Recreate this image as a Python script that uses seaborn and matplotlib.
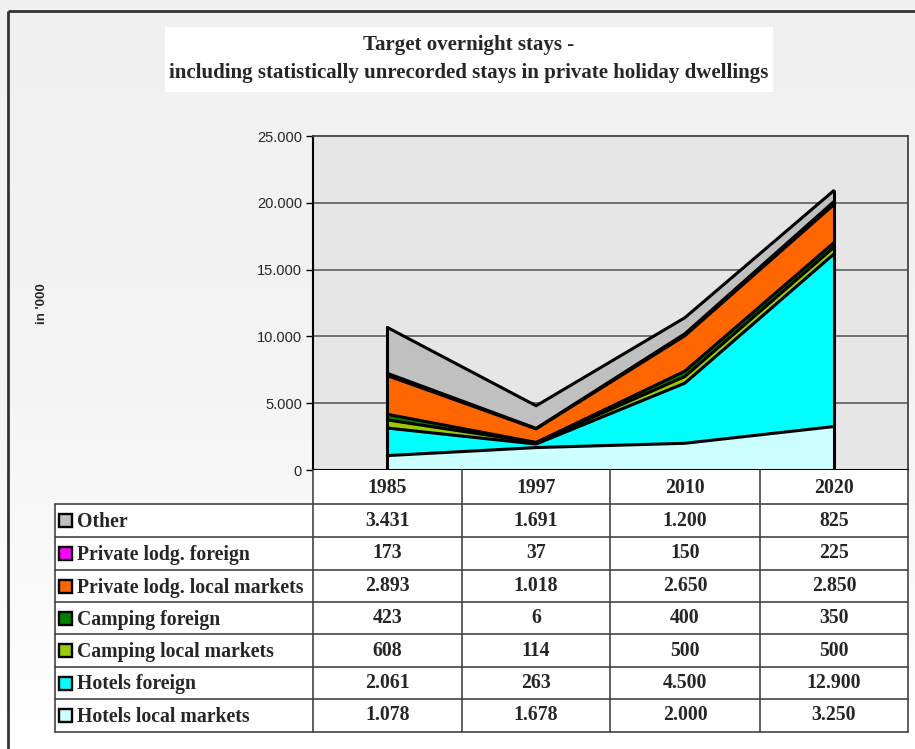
import numpy as np
import pandas as pd
import matplotlib
matplotlib.use("Agg")
import matplotlib.pyplot as plt
import seaborn as sns
from matplotlib.patches import Rectangle
from matplotlib.colors import LinearSegmentedColormap

# ---------------- data ----------------
years = ["1985", "1997", "2010", "2020"]
series_names = ["Hotels local markets", "Hotels foreign", "Camping local markets",
                "Camping foreign", "Private lodg. local markets",
                "Private lodg. foreign", "Other"]
hotels_local = [1078, 1678, 2000, 3250]
hotels_foreign = [2061, 263, 4500, 12900]
camping_local = [608, 114, 500, 500]
camping_foreign = [423, 6, 400, 350]
private_local = [2893, 1018, 2650, 2850]
private_foreign = [173, 37, 150, 225]
other = [3431, 1691, 1200, 825]
series_colors = ["#ccffff", "#00ffff", "#99cc00", "#008000", "#ff6600", "#ff00ff", "#c0c0c0"]
y_ticks = [0, 5000, 10000, 15000, 20000, 25000]
y_tick_labels = ["0", "5.000", "10.000", "15.000", "20.000", "25.000"]
title_text = "Target overnight stays -\nincluding statistically unrecorded stays in private holiday dwellings"
y_label = "in '000"

series_values = [hotels_local, hotels_foreign, camping_local, camping_foreign,
                 private_local, private_foreign, other]

sns.set_style("white")
plt.rcParams["font.family"] = ["Liberation Sans", "DejaVu Sans"]

W, H = 915, 749
fig = plt.figure(figsize=(W / 100, H / 100), dpi=100)

# background gradient
bg = fig.add_axes([0, 0, 1, 1], zorder=-10)
grad = np.linspace(0, 1, 256).reshape(-1, 1)
cmap = LinearSegmentedColormap.from_list("bg", ["#f0f0f0", "#f4f4f4", "#ffffff"])
bg.imshow(grad, aspect="auto", cmap=cmap, extent=[0, W, H, 0])
bg.set_xlim(0, W); bg.set_ylim(H, 0); bg.axis("off")

# overlay for title, frame and table (pixel coordinates)
ov = fig.add_axes([0, 0, 1, 1], zorder=5)
ov.set_xlim(0, W); ov.set_ylim(H, 0); ov.axis("off"); ov.patch.set_alpha(0)

# frame
ov.plot([8, 8], [H, 11], color="#333333", lw=2, solid_capstyle="butt")
ov.plot([8, W], [11, 11], color="#333333", lw=2, solid_capstyle="butt")

# title box
ov.add_patch(Rectangle((165, 27), 608, 65, facecolor="white", edgecolor="none"))
ov.text(469, 59, title_text, ha="center", va="center", fontsize=15, fontweight="bold",
        family="Liberation Serif", linespacing=1.55)

# ---------------- main area chart ----------------
ax = fig.add_axes([313 / W, 1 - 470 / H, 595 / W, 334 / H], zorder=2)
ax.set_facecolor("#e6e6e6")
xs = np.arange(len(years))
df = pd.DataFrame({name: vals for name, vals in zip(series_names, series_values)}, index=xs)
cum = df.cumsum(axis=1)

for yv in y_ticks[1:-1]:
    ax.axhline(yv, color="#505050", lw=1.1, zorder=1)

prev = np.zeros(len(xs))
for name, col in zip(series_names, series_colors):
    top = cum[name].values
    ax.fill_between(xs, prev, top, facecolor=col, edgecolor="none", zorder=2)
    prev = top

for name in series_names:
    sns.lineplot(x=xs, y=cum[name].values, color="black", lw=2.2, ax=ax, zorder=3)
total = cum[series_names[-1]].values
ax.plot([xs[0], xs[0]], [0, total[0]], color="black", lw=2.2, zorder=3)
ax.plot([xs[-1], xs[-1]], [0, total[-1]], color="black", lw=2.2, zorder=3)

ax.set_xlim(-0.5, len(years) - 0.5)
ax.set_ylim(0, 25000)
ax.set_yticks(y_ticks)
ax.set_yticklabels(y_tick_labels)
ax.set_xticks([])
ax.tick_params(axis="y", length=5, width=1, color="black", direction="out",
               labelsize=10.5, pad=3, left=True)
for side in ["top", "right"]:
    ax.spines[side].set_color("#444444"); ax.spines[side].set_linewidth(1.3)
for side in ["left", "bottom"]:
    ax.spines[side].set_color("black"); ax.spines[side].set_linewidth(1.5)
ax.set_xlabel(""); ax.set_ylabel("")

fig.text(42 / W, 1 - 304 / H, y_label, rotation=90, ha="center", va="center",
         fontsize=9.5, fontweight="bold")

# ---------------- data table ----------------
col_edges = [313, 462, 610, 760, 908]
col_centers = [(a + b) / 2 for a, b in zip(col_edges[:-1], col_edges[1:])]
row_edges = [504, 537, 570, 602, 634, 667, 699, 732]
left_x = 55
lc = "#444444"
fs = 14.2

ov.add_patch(Rectangle((left_x, row_edges[0]), col_edges[-1] - left_x,
                       row_edges[-1] - row_edges[0], facecolor="white", edgecolor="none", zorder=0))
ov.add_patch(Rectangle((col_edges[0], 470), col_edges[-1] - col_edges[0],
                       row_edges[0] - 470, facecolor="white", edgecolor="none", zorder=0))

for x in col_edges:
    ov.plot([x, x], [470, row_edges[-1]], color=lc, lw=1.2)
ov.plot([left_x, left_x], [row_edges[0], row_edges[-1]], color=lc, lw=1.2)
for y in row_edges:
    ov.plot([left_x, col_edges[-1]], [y, y], color=lc, lw=1.2)

for c, yr in zip(col_centers, years):
    ov.text(c, 488, yr, ha="center", va="center", fontsize=fs, fontweight="bold",
            family="Liberation Serif")

display_order = list(range(len(series_names)))[::-1]
for r, si in enumerate(display_order):
    yc = (row_edges[r] + row_edges[r + 1]) / 2
    ov.add_patch(Rectangle((58.5, yc - 6.5), 13, 13, facecolor=series_colors[si],
                           edgecolor="black", lw=1.7, zorder=3))
    ov.text(77, yc + 1.5, series_names[si], ha="left", va="center", fontsize=fs,
            fontweight="bold", family="Liberation Serif")
    for c, v in zip(col_centers, series_values[si]):
        ov.text(c, yc, f"{v:,}".replace(",", "."), ha="center", va="center",
                fontsize=fs, fontweight="bold", family="Liberation Serif")

fig.savefig("out.png", dpi=100)
